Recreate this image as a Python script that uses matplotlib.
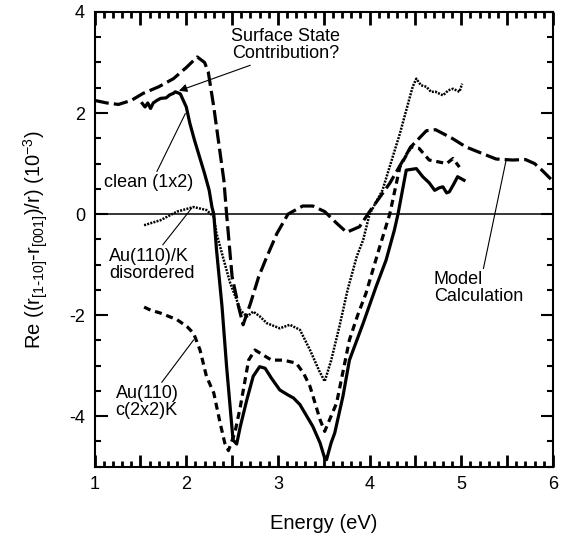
import numpy as np
import matplotlib
matplotlib.use('Agg')
import matplotlib.pyplot as plt
from matplotlib.ticker import MultipleLocator, FixedLocator, FixedFormatter

plt.rcParams['font.family'] = ['Liberation Sans', 'DejaVu Sans']
plt.rcParams['mathtext.default'] = 'regular'
plt.rcParams['axes.unicode_minus'] = False

# model calculation (long dashes)
model_x = [1.0, 1.13, 1.26, 1.4, 1.53, 1.7, 1.86, 2.0, 2.12, 2.2, 2.24, 2.30, 2.35, 2.41, 2.44,
           2.50, 2.57, 2.62, 2.70, 2.79, 2.88, 2.99, 3.11, 3.27, 3.38, 3.51, 3.64, 3.75,
           3.89, 4.0, 4.22, 4.45, 4.62, 4.72, 4.9, 5.05, 5.2, 5.38, 5.56, 5.70, 5.8, 5.88, 5.99]
model_y = [2.25, 2.2, 2.17, 2.25, 2.39, 2.52, 2.68, 2.9, 3.11, 3.0, 2.81, 2.12, 1.46, 0.67, 0.0,
           -1.24, -1.83, -2.19, -1.77, -1.24, -0.84, -0.38, 0.0, 0.16, 0.16, 0.05, -0.18, -0.36,
           -0.25, 0.05, 0.61, 1.33, 1.65, 1.67, 1.5, 1.33, 1.22, 1.09, 1.07, 1.08, 1.0, 0.87, 0.67]

# clean (1x2), solid
clean_x = [1.52, 1.55, 1.58, 1.61, 1.64, 1.68, 1.72, 1.78, 1.82, 1.86, 1.88, 1.935, 2.0, 2.04,
           2.09, 2.145, 2.20, 2.25, 2.28, 2.30, 2.33, 2.39, 2.44, 2.51, 2.55, 2.59, 2.66, 2.73,
           2.80, 2.86, 2.93, 3.02, 3.11, 3.17, 3.24, 3.38, 3.46, 3.51, 3.53, 3.58, 3.62, 3.71,
           3.78, 3.93, 4.07, 4.18, 4.27, 4.31, 4.40, 4.51, 4.58, 4.65, 4.71, 4.76, 4.80, 4.84,
           4.87, 4.92, 4.96, 5.03]
clean_y = [2.19, 2.12, 2.2, 2.09, 2.2, 2.25, 2.29, 2.3, 2.36, 2.39, 2.42, 2.38, 2.12, 1.79,
           1.46, 1.13, 0.80, 0.47, 0.14, 0.0, -0.71, -1.83, -3.02, -4.47, -4.55, -4.2, -3.68, -3.21,
           -3.02, -3.05, -3.25, -3.48, -3.58, -3.64, -3.77, -4.20, -4.53, -4.83, -4.86, -4.53, -4.33,
           -3.6, -2.89, -2.16, -1.44, -0.91, -0.32, 0.0, 0.87, 0.90, 0.74, 0.62, 0.47, 0.52, 0.54,
           0.42, 0.44, 0.6, 0.74, 0.67]

# Au(110) c(2x2)K, short dashes
c2x2_x = [1.54, 1.61, 1.72, 1.90, 2.01, 2.08, 2.15, 2.22, 2.30, 2.37, 2.42, 2.46, 2.53, 2.59,
          2.68, 2.75, 2.84, 2.93, 3.06, 3.20, 3.28, 3.35, 3.46, 3.51, 3.64, 3.78, 3.87, 3.96,
          4.11, 4.22, 4.33, 4.45, 4.54, 4.65, 4.76, 4.84, 4.91, 4.98]
c2x2_y = [-1.84, -1.90, -1.96, -2.09, -2.23, -2.36, -2.69, -3.21, -3.54, -4.14, -4.53, -4.68,
          -4.33, -3.81, -2.89, -2.69, -2.79, -2.89, -2.89, -2.95, -3.15, -3.41, -4.07, -4.30,
          -3.74, -2.49, -2.0, -1.57, -0.65, 0.0, 0.93, 1.33, 1.30, 1.07, 1.03, 1.0, 1.10, 0.93]

# Au(110)/K disordered, dotted
dis_x = [1.54, 1.72, 1.90, 2.08, 2.22, 2.30, 2.33, 2.40, 2.48, 2.55, 2.59, 2.66, 2.73, 2.80,
         2.88, 3.02, 3.13, 3.24, 3.35, 3.45, 3.51, 3.58, 3.67, 3.76, 3.86, 3.93, 4.0, 4.14,
         4.33, 4.47, 4.51, 4.56, 4.62, 4.67, 4.72, 4.80, 4.86, 4.91, 4.98, 5.01]
dis_y = [-0.22, -0.12, 0.05, 0.14, 0.08, -0.05, -0.38, -0.85, -1.37, -1.7, -1.90, -2.03, -1.93,
         -2.02, -2.16, -2.26, -2.19, -2.29, -2.69, -3.1, -3.31, -2.9, -2.23, -1.5, -0.84, -0.51,
         0.0, 0.47, 1.59, 2.52, 2.68, 2.55, 2.52, 2.42, 2.42, 2.35, 2.45, 2.48, 2.42, 2.58]

x_major = [1, 1.5, 2, 2.5, 3, 3.5, 4, 4.5, 5, 5.5, 6]
x_labels = ['1', '', '2', '', '3', '', '4', '', '5', '', '6']

fig = plt.figure(figsize=(5.7, 5.44), dpi=100)
ax = fig.add_axes([0.166, 0.142, 0.804, 0.836])

ax.axhline(0, color='black', lw=1.1, zorder=1)
ax.plot(model_x, model_y, color='black', lw=2.3, ls=(0, (4.5, 1.6)))
ax.plot(clean_x, clean_y, color='black', lw=2.3, ls='-')
ax.plot(c2x2_x, c2x2_y, color='black', lw=2.3, ls=(0, (2.2, 1.5)))
ax.plot(dis_x, dis_y, color='black', lw=1.8, ls=(0, (0.8, 0.5)))

ax.set_xlim(1, 6)
ax.set_ylim(-5, 4)
ax.xaxis.set_major_locator(FixedLocator(x_major))
ax.xaxis.set_major_formatter(FixedFormatter(x_labels))
ax.xaxis.set_minor_locator(MultipleLocator(0.1))
ax.yaxis.set_major_locator(MultipleLocator(2))
ax.yaxis.set_minor_locator(MultipleLocator(0.5))
ax.tick_params(axis='x', which='both', direction='in', top=True, width=2.0,
               color='black', labelsize=13, pad=7)
ax.tick_params(axis='x', which='major', length=9)
ax.tick_params(axis='x', which='minor', length=4.5)
ax.tick_params(axis='y', which='both', direction='in', right=True, width=1.5,
               color='black', labelsize=13, pad=7)
ax.tick_params(axis='y', which='major', length=9)
ax.tick_params(axis='y', which='minor', length=4.5)
for s in ax.spines.values():
    s.set_linewidth(1.5)

ax.set_xlabel('Energy (eV)', fontsize=14.5, labelpad=15)
ax.set_ylabel(r'Re ((r$_{[1\text{-}10]}$-r$_{[001]}$)/r) (10$^{-3}$)', fontsize=14.5, labelpad=14)

fs = 13
ax.annotate('Surface State\nContribution?', xy=(1.92, 2.44), xytext=(3.08, 3.0),
            ha='center', va='bottom', fontsize=fs, linespacing=1.0,
            arrowprops=dict(arrowstyle='-|>', color='black', lw=0.8, mutation_scale=12,
                            shrinkA=0, shrinkB=0, relpos=(0.25, 0)))
ax.annotate('clean (1x2)', xy=(1.99, 1.99), xytext=(1.1, 0.62),
            ha='left', va='center', fontsize=fs,
            arrowprops=dict(arrowstyle='-', color='black', lw=0.8, shrinkA=0, shrinkB=0,
                            relpos=(0.58, 1.0)))
ax.annotate('Au(110)/K\ndisordered', xy=(2.06, 0.12), xytext=(1.16, -1.0),
            ha='left', va='center', fontsize=fs, linespacing=1.0,
            arrowprops=dict(arrowstyle='-', color='black', lw=0.8, shrinkA=0, shrinkB=0,
                            relpos=(0.6, 1.0)))
ax.annotate('Au(110)\nc(2x2)K', xy=(2.08, -2.49), xytext=(1.23, -3.72),
            ha='left', va='center', fontsize=fs, linespacing=1.0,
            arrowprops=dict(arrowstyle='-', color='black', lw=0.8, shrinkA=0, shrinkB=0,
                            relpos=(0.7, 1.0)))
ax.annotate('Model\nCalculation', xy=(5.49, 1.07), xytext=(4.7, -1.47),
            ha='left', va='center', fontsize=fs, linespacing=1.0,
            arrowprops=dict(arrowstyle='-', color='black', lw=0.8, shrinkA=0, shrinkB=0,
                            relpos=(0.55, 1.0)))

fig.savefig('out.png', dpi=100)
